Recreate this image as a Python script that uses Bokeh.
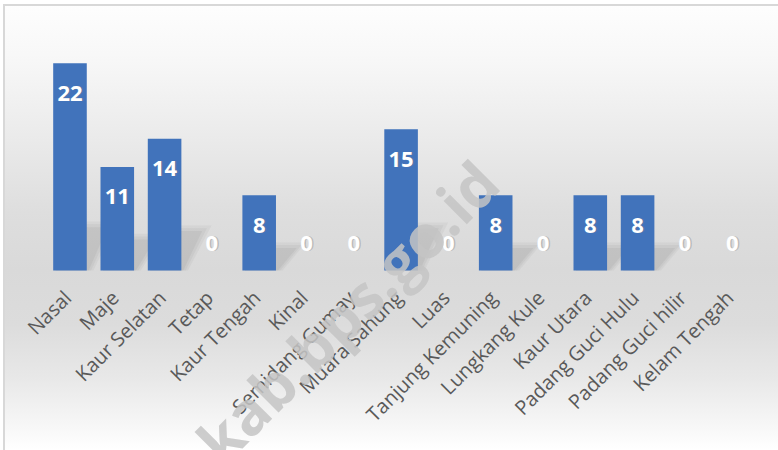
import math
from bokeh.plotting import figure
from bokeh.models import ColumnDataSource, LabelSet, Label, Range1d
from bokeh.core.properties import value
from bokeh.embed import file_html
from bokeh.resources import INLINE

categories = ["Nasal", "Maje", "Kaur Selatan", "Tetap", "Kaur Tengah", "Kinal",
              "Semidang Gumay", "Muara Sahung", "Luas", "Tanjung Kemuning",
              "Lungkang Kule", "Kaur Utara", "Padang Guci Hulu", "Padang Guci hilir",
              "Kelam Tengah"]
values = [22, 11, 14, 0, 8, 0, 0, 15, 0, 8, 0, 8, 8, 0, 0]
watermark_text = "kab.bps.go.id"

BAR_W = 0.71
xi = list(range(len(categories)))

src = ColumnDataSource(dict(
    xi=xi,
    cat=categories,
    val=values,
    lbl=[str(v) for v in values],
    off=[-30 if v > 0 else 27 for v in values],
))

p = figure(width=778, height=450,
           x_range=Range1d(-1.469, 14.979),
           y_range=Range1d(-19.11, 28.67),
           output_backend="svg", toolbar_location=None,
           x_axis_location=None, y_axis_location=None,
           min_border=0)

p.border_fill_color = None
p.background_fill_color = None
p.outline_line_color = None
p.grid.visible = False
p.styles = {
    "background": (
        "linear-gradient(#ffffff,#ffffff) left 0px top 0px / 100% 4px no-repeat, "
        "linear-gradient(#ffffff,#ffffff) left 0px top 0px / 3px 100% no-repeat, "
        "linear-gradient(#d8d8d8,#d8d8d8) left 3px top 4px / 100% 2px no-repeat, "
        "linear-gradient(#d8d8d8,#d8d8d8) left 3px top 4px / 2px 100% no-repeat, "
        "linear-gradient(to bottom, #fefefe 0%, #f8f8f8 12%, #ebebeb 30%, "
        "#dedede 47%, #d9d9d9 60%, #dcdcdc 72%, #e8e8e8 84%, #f6f6f6 94%, #ffffff 100%)"
    ),
}

# soft perspective shadows behind the bars (derived from bar values)
for grow, alpha in [(0.10, 0.05), (0.05, 0.06), (0.0, 0.07)]:
    xs, ys = [], []
    for x, v in zip(xi, values):
        if v <= 0:
            continue
        h = min(0.30 * v, 4.6) + grow * 6
        sx = 0.40 + grow
        xl = x - BAR_W / 2 + 0.05
        xr = x + BAR_W / 2 + 0.04 + grow
        xs.append([xl, xr, xr + sx, xl + sx])
        ys.append([0, 0, h, h])
    p.patches(xs, ys, fill_color="#505050", fill_alpha=alpha, line_color=None)

p.vbar(x="xi", top="val", bottom=0, width=BAR_W, source=src,
       fill_color="#4173bb", line_color=None)

shadow = LabelSet(x="xi", y="val", text="lbl", source=src, y_offset="off",
                  x_offset=1.5, text_align="center", text_baseline="middle",
                  text_color="#7a7a7a", text_alpha=0.35,
                  text_font=value("Open Sans"), text_font_style="bold",
                  text_font_size="22px")
p.add_layout(shadow)

vals = LabelSet(x="xi", y="val", text="lbl", source=src, y_offset="off",
                text_align="center", text_baseline="middle",
                text_color="white", text_font=value("Open Sans"), text_font_style="bold",
                text_font_size="22px")
p.add_layout(vals)

# rotated category labels, one Label per category
for x, name in zip(xi, categories):
    p.add_layout(Label(x=x, y=0, text=name, angle=math.pi / 4,
                       x_offset=-12, y_offset=-14,
                       text_align="right", text_baseline="top",
                       text_color="#595959", text_font="Open Sans",
                       text_font_size="20px"))

wm = Label(x=2.9, y=-19.2, text=watermark_text, angle=math.pi / 4,
           text_align="left", text_baseline="alphabetic",
           text_color="#c4c4c4", text_alpha=0.85, text_font="Open Sans",
           text_font_style="bold", text_font_size="60px")
p.add_layout(wm)

open("out.html", "w").write(file_html(p, INLINE))
